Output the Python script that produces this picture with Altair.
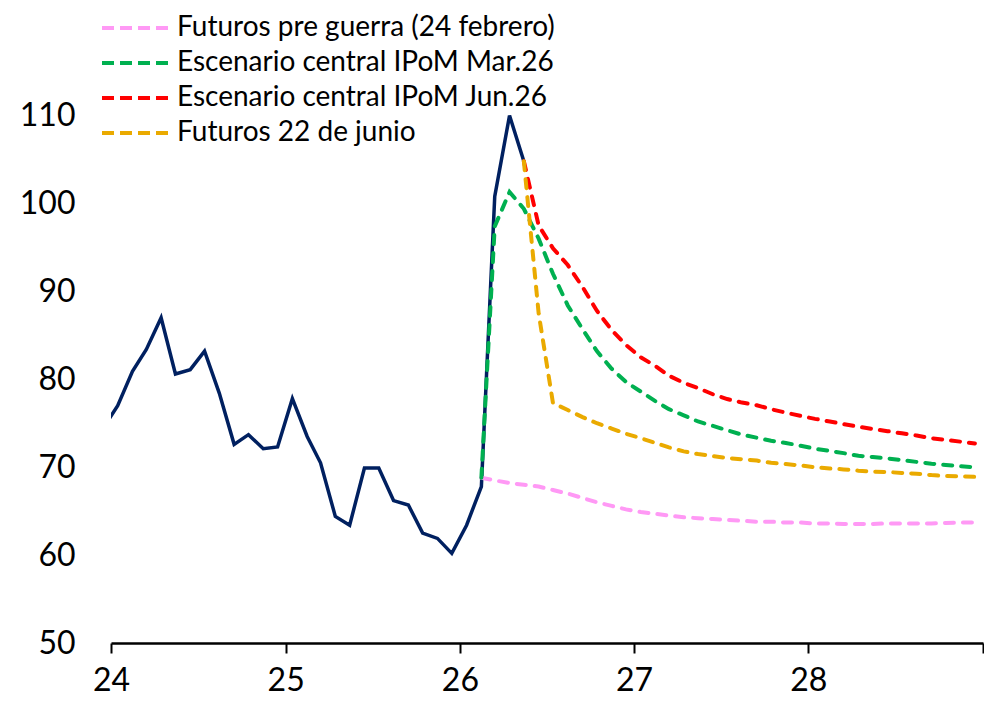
import altair as alt
import pandas as pd

# ---------------- data ----------------
# Historical (monthly, Dec-2023 .. May-2026)
hist_start = "2023-12-01"
hist_values = [74.4,
               77.0, 80.9, 83.4, 87.0, 80.6, 81.1, 83.2, 78.4, 72.6, 73.7, 72.1, 72.3,
               77.8, 73.5, 70.5, 64.4, 63.4, 69.9, 69.9, 66.2, 65.7, 62.5, 61.9, 60.2,
               63.4, 67.8, 100.8, 110.0, 104.8]

# Forecast paths
pink_name = "Futuros pre guerra (24 febrero)"
green_name = "Escenario central IPoM Mar.26"
red_name = "Escenario central IPoM Jun.26"
gold_name = "Futuros 22 de junio"

pink_start = "2026-02-01"
pink_values = [68.8, 68.5, 68.2, 68.0, 67.8, 67.4, 67.0, 66.5, 66.0, 65.6, 65.2,
               64.9, 64.7, 64.5, 64.3, 64.2, 64.1, 64.0, 63.9, 63.8, 63.8, 63.7, 63.7,
               63.6, 63.6, 63.55, 63.55, 63.55, 63.6, 63.6, 63.6, 63.6, 63.65, 63.7, 63.7]

green_start = "2026-02-01"
green_values = [68.8, 97.4, 101.3, 99.4, 96.0, 92.0, 88.4, 85.7, 83.2, 81.2, 79.7,
                78.6, 77.5, 76.6, 75.9, 75.2, 74.7, 74.2, 73.7, 73.35, 73.0, 72.75, 72.45,
                72.1, 71.85, 71.6, 71.3, 71.15, 71.0, 70.8, 70.6, 70.4, 70.25, 70.1, 70.0]

red_start = "2026-05-01"
red_values = [104.8, 97.5, 94.9, 93.0, 90.5, 87.8, 85.6, 83.9,
              82.5, 81.5, 80.4, 79.6, 79.0, 78.3, 77.75, 77.35, 77.05, 76.6, 76.2, 75.85,
              75.5, 75.2, 74.9, 74.6, 74.35, 74.1, 73.85, 73.6, 73.3, 73.1, 72.9, 72.7]

gold_start = "2026-05-01"
gold_values = [104.8, 87.5, 77.3, 76.5, 75.7, 75.0, 74.4, 73.8,
               73.3, 72.75, 72.25, 71.8, 71.5, 71.25, 71.05, 70.9, 70.75, 70.5, 70.35, 70.2,
               70.0, 69.85, 69.75, 69.6, 69.5, 69.45, 69.35, 69.25, 69.1, 69.0, 68.95, 68.9]

series_order = [pink_name, green_name, red_name, gold_name]
series_colors = ["#FF99F5", "#00B050", "#FF0000", "#EAAA00"]

x_ticks_years = [2024, 2025, 2026, 2027, 2028, 2029]
y_ticks = [50, 60, 70, 80, 90, 100, 110]


def monthly(start, values):
    # mid-month dates
    d = pd.date_range(start, periods=len(values), freq="MS") + pd.Timedelta(days=14)
    return d


hist = pd.DataFrame({"date": monthly(hist_start, hist_values), "value": hist_values})

frames = []
for name, start, vals in [(pink_name, pink_start, pink_values),
                          (green_name, green_start, green_values),
                          (red_name, red_start, red_values),
                          (gold_name, gold_start, gold_values)]:
    frames.append(pd.DataFrame({"date": monthly(start, vals), "value": vals, "serie": name}))
fc = pd.concat(frames, ignore_index=True)

FONT = "Lato"

x_scale = alt.Scale(domain=[alt.DateTime(year=2024, month=1, date=1),
                            alt.DateTime(year=2029, month=1, date=1)])
y_scale = alt.Scale(domain=[50, 112], nice=False, zero=False)

x_axis = alt.Axis(
    values=[alt.DateTime(year=y, month=1, date=1) for y in x_ticks_years],
    format="%y",
    labelExpr="datum.label == '29' ? '' : datum.label",
    title=None, grid=False,
    domainColor="black", domainWidth=2.5,
    tickColor="black", tickWidth=2, tickSize=10,
    labelFont=FONT, labelFontSize=32, labelColor="black",
    labelPadding=12, labelFlush=False, labelOverlap=False, labelBound=False,
)
y_axis = alt.Axis(
    values=y_ticks, title=None, grid=False, ticks=False, domain=False,
    labelFont=FONT, labelFontSize=32, labelColor="black", labelPadding=36,
)

hist_line = alt.Chart(hist).mark_line(
    color="#002060", strokeWidth=3.5, strokeJoin="miter", clip=True
).encode(
    x=alt.X("date:T", scale=x_scale, axis=x_axis),
    y=alt.Y("value:Q", scale=y_scale, axis=y_axis),
)

fc_lines = alt.Chart(fc).mark_line(
    strokeWidth=4, strokeDash=[9, 9], strokeCap="round", clip=True
).encode(
    x=alt.X("date:T", scale=x_scale),
    y=alt.Y("value:Q", scale=y_scale),
    color=alt.Color(
        "serie:N",
        scale=alt.Scale(domain=series_order, range=series_colors),
        sort=series_order,
        legend=alt.Legend(
            orient="none", legendX=-11, legendY=-87, title=None,
            symbolType="stroke", symbolSize=4624, symbolStrokeWidth=4,
            symbolDash=[12, 6], clipHeight=34, rowPadding=1, padding=0,
            labelFont=FONT, labelFontSize=28, labelColor="black", labelOffset=5,
            labelLimit=700,
        ),
    ),
    order=alt.Order("date:T"),
)

chart = alt.layer(hist_line, fc_lines).properties(
    width=872, height=545,
    autosize=alt.AutoSizeParams(type="none"),
    padding={"left": 103, "top": 90, "right": 1, "bottom": 62},
    background="white",
).configure_view(stroke=None)

chart.save("out.html", embed_options={"renderer": "svg", "actions": False})
